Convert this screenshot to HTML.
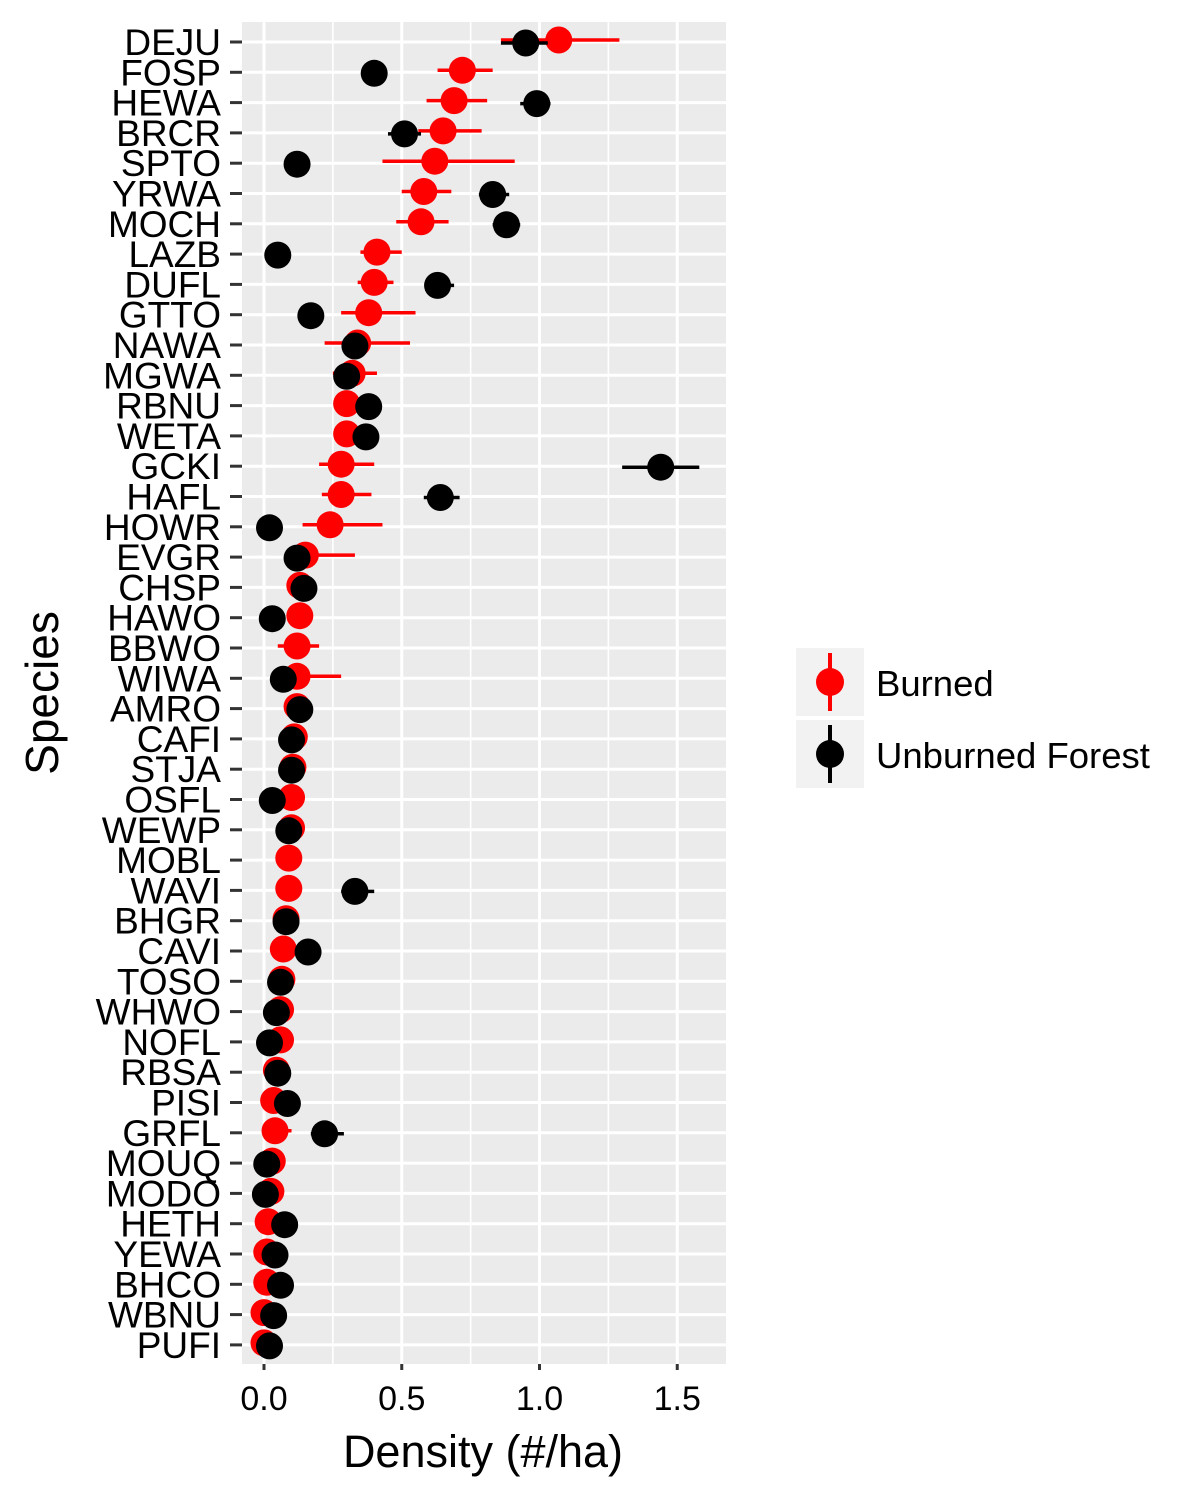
<!DOCTYPE html>
<html><head><meta charset="utf-8"><style>
body{margin:0;background:#fff;}
svg{display:block;font-family:"Liberation Sans",Arial,sans-serif;}
</style></head><body>
<svg id="chart" width="1200" height="1500">
<rect x="242" y="22" width="484" height="1342" fill="#EBEBEB"/>
<g id="grid"></g>
<g id="yaxis"></g>
<g id="xaxis"></g>
<g id="marks"></g>
<text x="483" y="1467" font-size="45" text-anchor="middle">Density (#/ha)</text>
<text transform="translate(58,693) rotate(-90)" font-size="46" text-anchor="middle">Species</text>
<g>
<rect x="796" y="648" width="68" height="68" fill="#F2F2F2"/>
<line x1="830" y1="653" x2="830" y2="711" stroke="#f00" stroke-width="4"/>
<circle cx="830" cy="682" r="14" fill="#f00"/>
<text x="876" y="696" font-size="36.5">Burned</text>
<rect x="796" y="720" width="68" height="68" fill="#F2F2F2"/>
<line x1="830" y1="725" x2="830" y2="783" stroke="#000" stroke-width="4"/>
<circle cx="830" cy="754" r="14" fill="#000"/>
<text x="876" y="768" font-size="36.5">Unburned Forest</text>
</g>
</svg>
<script>
const species=["DEJU","FOSP","HEWA","BRCR","SPTO","YRWA","MOCH","LAZB","DUFL","GTTO","NAWA","MGWA","RBNU","WETA","GCKI","HAFL","HOWR","EVGR","CHSP","HAWO","BBWO","WIWA","AMRO","CAFI","STJA","OSFL","WEWP","MOBL","WAVI","BHGR","CAVI","TOSO","WHWO","NOFL","RBSA","PISI","GRFL","MOUQ","MODO","HETH","YEWA","BHCO","WBNU","PUFI"];
const burned=[1.07,0.72,0.69,0.65,0.62,0.58,0.57,0.41,0.40,0.38,0.34,0.32,0.30,0.30,0.28,0.28,0.24,0.15,0.13,0.13,0.12,0.12,0.12,0.11,0.105,0.10,0.10,0.09,0.09,0.08,0.07,0.065,0.06,0.06,0.045,0.035,0.04,0.03,0.025,0.015,0.01,0.01,0.0,0.0];
const burnedLo=[0.86,0.63,0.59,0.56,0.43,0.50,0.48,0.35,0.34,0.28,0.22,0.25,0.26,0.26,0.20,0.21,0.14,0.09,0.10,0.09,0.05,0.05,0.08,0.08,0.08,0.07,0.07,0.07,0.07,0.06,0.05,0.05,0.04,0.04,0.03,0.02,0.0,0.02,0.01,0.0,0.0,0.0,-0.01,-0.01];
const burnedHi=[1.29,0.83,0.81,0.79,0.91,0.68,0.67,0.50,0.47,0.55,0.53,0.41,0.35,0.35,0.40,0.39,0.43,0.33,0.17,0.17,0.20,0.28,0.15,0.14,0.13,0.13,0.13,0.11,0.11,0.10,0.09,0.08,0.08,0.08,0.06,0.05,0.10,0.04,0.04,0.03,0.02,0.02,0.01,0.01];
const unburned=[0.95,0.40,0.99,0.51,0.12,0.83,0.88,0.05,0.63,0.17,0.33,0.30,0.38,0.37,1.44,0.64,0.02,0.12,0.145,0.03,null,0.07,0.13,0.10,0.10,0.03,0.09,null,0.33,0.08,0.16,0.06,0.045,0.02,0.05,0.085,0.22,0.01,0.005,0.075,0.04,0.06,0.035,0.02];
const unburnedLo=[0.86,0.38,0.93,0.45,0.11,0.78,0.83,0.04,0.59,0.16,0.31,0.28,0.36,0.35,1.30,0.58,0.01,0.11,0.13,0.02,null,0.06,0.12,0.09,0.09,0.02,0.08,null,0.28,0.07,0.15,0.05,0.04,0.01,0.04,0.07,0.17,0.0,0.0,0.06,0.03,0.05,0.03,0.01];
const unburnedHi=[1.03,0.42,1.04,0.57,0.13,0.89,0.93,0.06,0.69,0.18,0.35,0.32,0.40,0.39,1.58,0.71,0.03,0.13,0.16,0.04,null,0.08,0.14,0.11,0.11,0.04,0.10,null,0.40,0.09,0.17,0.07,0.05,0.03,0.06,0.10,0.29,0.02,0.01,0.09,0.05,0.07,0.04,0.03];
const xTicks=[0,0.5,1.0,1.5];
const xTickLabels=["0.0","0.5","1.0","1.5"];
const xMinor=[0.25,0.75,1.25];

const NS="http://www.w3.org/2000/svg";
const X0=264, XS=275.5;
function xs(v){return X0+v*XS;}
function ys(i){return 42+i*30.3;}
function mk(tag,attrs,parent){const e=document.createElementNS(NS,tag);for(const k in attrs)e.setAttribute(k,attrs[k]);parent.appendChild(e);return e;}
const grid=document.getElementById('grid'),yax=document.getElementById('yaxis'),xax=document.getElementById('xaxis'),marks=document.getElementById('marks');
xMinor.forEach(v=>{const l=mk('line',{x1:xs(v),x2:xs(v),y1:22,y2:1364,stroke:'#fff','stroke-width':1.6},grid);

});
xTicks.forEach((v,i)=>{const l=mk('line',{x1:xs(v),x2:xs(v),y1:22,y2:1364,stroke:'#fff','stroke-width':3},grid);


const t=mk('line',{x1:xs(v),x2:xs(v),y1:1364,y2:1370,stroke:'#333','stroke-width':3},xax);


const tx=mk('text',{x:xs(v),y:1410,'font-size':34,'text-anchor':'middle',fill:'#000'},xax);
tx.textContent=xTickLabels[i];

});
species.forEach((s,i)=>{const y=ys(i);
const g=mk('line',{x1:242,x2:726,y1:y,y2:y,stroke:'#fff','stroke-width':3},grid);


const t=mk('line',{x1:230,x2:242,y1:y,y2:y,stroke:'#333','stroke-width':3},yax);


const tx=mk('text',{x:221,y:y+13,'font-size':37,'text-anchor':'end',fill:'#000'},yax);
tx.textContent=s;

});
function series(vals,lo,hi,col,dy,name){
vals.forEach((v,i)=>{if(v===null)return;const y=ys(i)+dy;
const e=mk('line',{x1:xs(lo[i]),x2:xs(hi[i]),y1:y,y2:y,stroke:col,'stroke-width':3.5},marks);


const c=mk('circle',{cx:xs(v),cy:y,r:13.5,fill:col},marks);

});}
series(burned,burnedLo,burnedHi,'#f00',-2,'burned');
series(unburned,unburnedLo,unburnedHi,'#000',1,'unburned');
</script>
</body></html>
